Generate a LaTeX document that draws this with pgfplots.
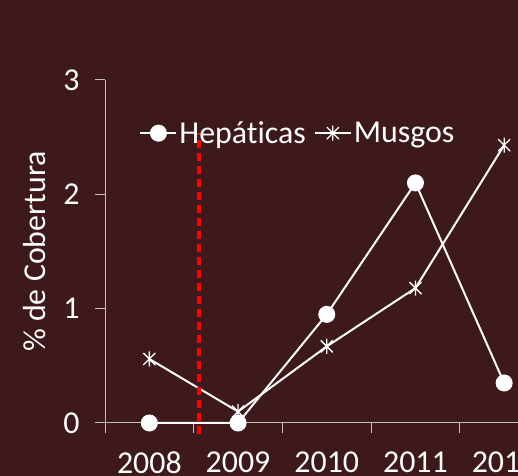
\documentclass[border=0pt]{standalone}
\usepackage{pgfplots}
\pgfplotsset{compat=1.18}
\usepackage{fontspec}
\setmainfont{Carlito}[Ligatures={NoCommon}]
\definecolor{bg}{RGB}{61,25,27}
\definecolor{axc}{RGB}{200,188,188}
\pgfdeclareplotmark{xstar}{%
  \pgfpathmoveto{\pgfqpoint{0pt}{\pgfplotmarksize}}%
  \pgfpathlineto{\pgfqpoint{0pt}{-\pgfplotmarksize}}%
  \pgfpathmoveto{\pgfqpoint{-.8\pgfplotmarksize}{-.8\pgfplotmarksize}}%
  \pgfpathlineto{\pgfqpoint{.8\pgfplotmarksize}{.8\pgfplotmarksize}}%
  \pgfpathmoveto{\pgfqpoint{-.8\pgfplotmarksize}{.8\pgfplotmarksize}}%
  \pgfpathlineto{\pgfqpoint{.8\pgfplotmarksize}{-.8\pgfplotmarksize}}%
  \pgfusepathqstroke}
\begin{document}
\begin{tikzpicture}
\path[use as bounding box, clip] (0,0) rectangle (518bp,476bp);
\fill[bg] (0,0) rectangle (518bp,476bp);
\begin{axis}[
  at={(105bp,53bp)}, anchor=south west,
  scale only axis, width=443.5bp, height=343bp,
  xmin=-0.5, xmax=4.5, ymin=0, ymax=3,
  clip=false,
  axis lines=left,
  axis line style={-, axc, line width=1bp},
  tick style={axc, line width=1bp},
  tick align=outside,
  /pgf/number format/assume math mode=true,
  xtick={0,1,2,3,4},
  xticklabels={2008,2009,2010,2011,2012},
  major x tick style={draw=none},
  minor xtick={-0.5,0.5,1.5,2.5,3.5,4.5},
  minor tick length=10bp,
  ytick={0,1,2,3},
  major tick length=10bp,
  ticklabel style={font=\fontsize{32}{36}\selectfont, text=white},
  xticklabel style={yshift=-15bp},
  yticklabel style={xshift=-12bp},
  ylabel={\% de Cobertura},
  ylabel style={at={(axis description cs:-0.158,0.5)}, anchor=center, font=\fontsize{32}{36}\selectfont, text=white},
  legend style={at={(0.435,0.845)}, anchor=center, draw=none, fill=none,
    font=\fontsize{32}{36}\selectfont, text=white, legend columns=2,
    /tikz/every even column/.append style={column sep=6bp}},
  legend cell align=left,
  legend image code/.code={\draw[mark repeat=2,mark phase=2] plot coordinates {(0bp,0bp)(18bp,0bp)(36bp,0bp)};},
]
\addplot[white, line width=2bp, mark=*, mark size=7.5bp, mark options={fill=white}]
  coordinates {(0,0) (1,0) (2,0.95) (3,2.10) (4,0.35)};
\addlegendentry{Hepáticas}
\addplot[white, line width=2bp, mark=xstar, mark size=7.5bp, mark options={line width=1.3bp}]
  coordinates {(0,0.56) (1,0.10) (2,0.67) (3,1.18) (4,2.43)};
\addlegendentry{Musgos}
\addplot[red, line width=3.2bp, dash pattern=on 8bp off 5bp, forget plot]
  coordinates {(0.56,-0.1) (0.56,2.54)};
\end{axis}
\end{tikzpicture}
\end{document}
